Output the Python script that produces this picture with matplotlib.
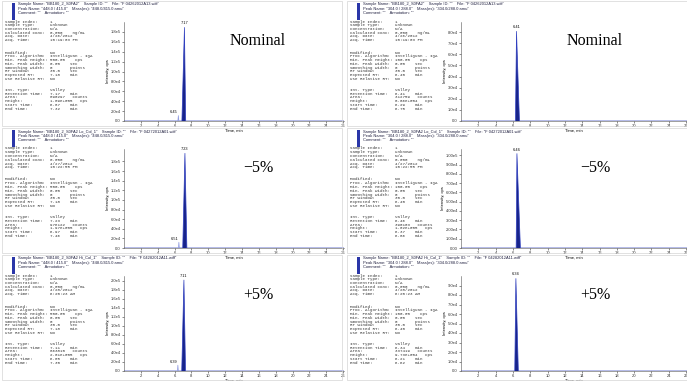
import matplotlib
matplotlib.use("Agg")
import matplotlib.pyplot as plt
from matplotlib.patches import Rectangle
from matplotlib.ticker import FixedLocator, FuncFormatter
import numpy as np

# ── Canvas ────────────────────────────────────────────────────────────────── #
W, H = 687, 381

# ── Data ──────────────────────────────────────────────────────────────────── #
conditions   = ["Nominal", "\u22125%", "+5%"]
sample_names = ["BB180_2_S0FA2", "BB180_2_S0FA2 Lo_Col_1", "BB180_2_S0FA2 Hi_Col_1"]
wiff_files   = ["F 04262012A13.wiff", "F 04272012A01.wiff", "F 04282012A11.wiff"]
acq_dates    = ["4/26/2012", "4/27/2012", "4/28/2012"]
acq_times    = ["10:19:03 PM", "10:22:55 PM", "6:20:23 AM"]

# left column: 448.0 / 415.0
left_rt           = [7.17, 7.23, 7.11]
left_height       = [1.89e5, 1.97e5, 2.01e5]
left_area         = [890297, 976122, 863810]
left_start        = [6.87, 6.97, 6.85]
left_end          = [7.32, 7.46, 7.30]
left_minor_rt     = [6.45, 6.51, 6.39]
left_minor_height = [1.1e4, 1.2e4, 1.3e4]
left_yticks = [
    [0, 2e4, 4e4, 6e4, 8e4, 1.0e5, 1.2e5, 1.4e5, 1.6e5, 1.8e5],
    [0, 2e4, 4e4, 6e4, 8e4, 1.0e5, 1.2e5, 1.4e5, 1.6e5, 1.8e5],
    [0, 2e4, 4e4, 6e4, 8e4, 1.0e5, 1.2e5, 1.4e5, 1.6e5, 1.8e5, 2.0e5],
]
left_ytop = [2.0e5, 2.06e5, 2.1e5]

# right column: 304.0 / 288.0
right_rt     = [6.41, 6.46, 6.34]
right_height = [8.06e4, 1.02e5, 9.73e4]
right_area   = [312759, 390103, 337419]
right_start  = [6.29, 6.37, 6.21]
right_end    = [6.75, 6.86, 6.62]
right_yticks = [
    [0, 1e4, 2e4, 3e4, 4e4, 5e4, 6e4, 7e4, 8e4],
    [0, 1e4, 2e4, 3e4, 4e4, 5e4, 6e4, 7e4, 8e4, 9e4, 1e5],
    [0, 1e4, 2e4, 3e4, 4e4, 5e4, 6e4, 7e4, 8e4, 9e4],
]
right_ydec = [1, 2, 1]
right_ytop = [8.9e4, 1.07e5, 1.0e5]

x_ticks = [2, 4, 6, 8, 10, 12, 14, 16, 18, 20, 22, 24, 26]

MONO  = "Liberation Mono"
SANS  = "Liberation Sans"
SERIF = "Liberation Serif"
BLUE  = "#2f3fc0"
DARK  = "#18248a"

# vertical placement per row (screenshots are not evenly cut)
ROW_Y      = [0, 127, 254]
AX_BOTTOM  = [121, 121, 117]


def px_rect(x, y, w, h):
    return [x / W, 1 - (y + h) / H, w / W, h / H]


def ftext(fig, x, y, s, **kw):
    return fig.text(x / W, 1 - y / H, s, **kw)


def sci(v, d):
    if v == 0:
        return f"{0:.{d}f}"
    e = int(np.floor(np.log10(v)))
    return f"{v / 10 ** e:.{d}f}e{e}"


def info_lines(date, time_, min_h, exp_rt, rt, area, height, start, end):
    g1 = [("Sample Index:", "1"), ("Sample Type:", "Unknown"),
          ("Concentration:", "N/A"), ("Calculated Conc:", "0.000    ng/mL"),
          ("Acq. Date:", date), ("Acq. Time:", time_)]
    g2 = [("Modified:", "No"), ("Proc. Algorithm:", "IntelliQuan - IQA"),
          ("Min. Peak Height:", f"{min_h:.2f}    cps"),
          ("Min. Peak Width:", "0.00    sec"), ("Smoothing Width:", "0       points"),
          ("RT Window:", "30.0    sec"), ("Expected RT:", f"{exp_rt:.2f}    min"),
          ("Use Relative RT:", "No")]
    e = int(np.floor(np.log10(height)))
    g3 = [("Int. Type:", "Valley"), ("Retention Time:", f"{rt:.2f}    min"),
          ("Area:", f"{area}   counts"),
          ("Height:", f"{height / 10 ** e:.2f}e+{e:03d}   cps"),
          ("Start Time:", f"{start:.2f}    min"), ("End Time:", f"{end:.2f}    min")]
    fmt = lambda g: [f"{k:<18}{v}" for k, v in g]
    return fmt(g1), fmt(g2), fmt(g3)


def draw_panel(fig, x0, row, ax_x, ax_w, peak_name, masses, min_h, exp_rt,
               rt, height, area, start, end, yticks, ytop, ydec,
               minor_rt=None, minor_h=None):
    y0 = ROW_Y[row]
    # frame of the screenshot
    fig.add_artist(Rectangle((x0 / W, 1 - (y0 + 126) / H), 340 / W, 125 / H,
                             transform=fig.transFigure, fill=False,
                             ec="#d4d4d4", lw=0.5))
    # header
    fig.add_artist(Rectangle(((x0 + 10) / W, 1 - (y0 + 20) / H), 3 / W, 17 / H,
                             transform=fig.transFigure, color="#2a36a8", lw=0))
    hdr = [f'Sample Name: "{sample_names[row]}"    Sample ID: ""    File: "{wiff_files[row]}"',
           f'Peak Name: "{peak_name}"    Mass(es): "{masses}"',
           'Comment: ""    Annotation: ""']
    for i, s in enumerate(hdr):
        ftext(fig, x0 + 16, y0 + 4.5 + 4.3 * i, s, fontsize=2.9, family=SANS,
              color="#202040", va="center")
    # info block
    groups = info_lines(acq_dates[row], acq_times[row], min_h, exp_rt, rt, area,
                        height, start, end)
    starts = [21.5, 52.5, 90]
    for g, ys in zip(groups, starts):
        for i, s in enumerate(g):
            ftext(fig, x0 + 3, y0 + ys + 3.75 * i, s, fontsize=3.0, family=MONO,
                  color="#333333", va="center")

    # chromatogram
    bottom = AX_BOTTOM[row]
    ax = fig.add_axes(px_rect(x0 + ax_x, y0 + 22, ax_w, bottom - 22))
    t = [0, start, rt, end, 26.5]
    y = [0, 0, height, 0, 0]
    ax.fill(t, y, color=DARK, lw=0)
    ax.plot(t, y, color=BLUE, lw=0.5)
    ax.annotate(f"{rt:.2f}", (rt, height), xytext=(0, 1.5), textcoords="offset points",
                ha="center", va="bottom", fontsize=2.8, family=SANS)
    if minor_rt is not None:
        ax.plot([minor_rt - 0.06, minor_rt, minor_rt + 0.06], [0, minor_h, 0],
                color="#8f9ae0", lw=0.5)
        ax.annotate(f"{minor_rt:.2f}", (minor_rt, minor_h), xytext=(-0.5, 1),
                    textcoords="offset points", ha="right", va="bottom",
                    fontsize=2.8, family=SANS)
    ax.set_xlim(0, 26.1)
    ax.set_ylim(0, ytop)
    ax.xaxis.set_major_locator(FixedLocator(x_ticks))
    ax.yaxis.set_major_locator(FixedLocator(yticks))
    ax.yaxis.set_major_formatter(FuncFormatter(lambda v, p: sci(v, ydec)))
    ax.tick_params(labelsize=3, length=1.2, width=0.4, pad=1, colors="#333333")
    for sp in ["top", "right"]:
        ax.spines[sp].set_visible(False)
    for sp in ["left", "bottom"]:
        ax.spines[sp].set_linewidth(0.4)
        ax.spines[sp].set_color("#555555")
    for lab in ax.get_xticklabels() + ax.get_yticklabels():
        lab.set_family(SANS)
    ax.set_xlabel("Time, min", fontsize=3, family=SANS, labelpad=0.3)
    ax.set_ylabel("Intensity, cps", fontsize=3, family=SANS, labelpad=0.5)
    ax.patch.set_alpha(0)

    # condition label
    ftext(fig, x0 + ax_x + 134, y0 + 41, conditions[row], fontsize=11.5,
          family=SERIF, ha="center", va="center")


def main():
    fig = plt.figure(figsize=(W / 100, H / 100), dpi=100)
    fig.patch.set_facecolor("white")
    for r in range(3):
        draw_panel(fig, 2, r, 122, 220, "448.0 / 415.0", "448.0/415.0 amu",
                   500.0, 7.18, left_rt[r], left_height[r], left_area[r],
                   left_start[r], left_end[r], left_yticks[r], left_ytop[r], 1,
                   left_minor_rt[r], left_minor_height[r])
        draw_panel(fig, 347, r, 114, 226, "304.0 / 288.0", "304.0/288.0 amu",
                   100.0, 6.40, right_rt[r], right_height[r], right_area[r],
                   right_start[r], right_end[r], right_yticks[r], right_ytop[r],
                   right_ydec[r])
    fig.savefig("out.png", dpi=100)


if __name__ == "__main__":
    main()
